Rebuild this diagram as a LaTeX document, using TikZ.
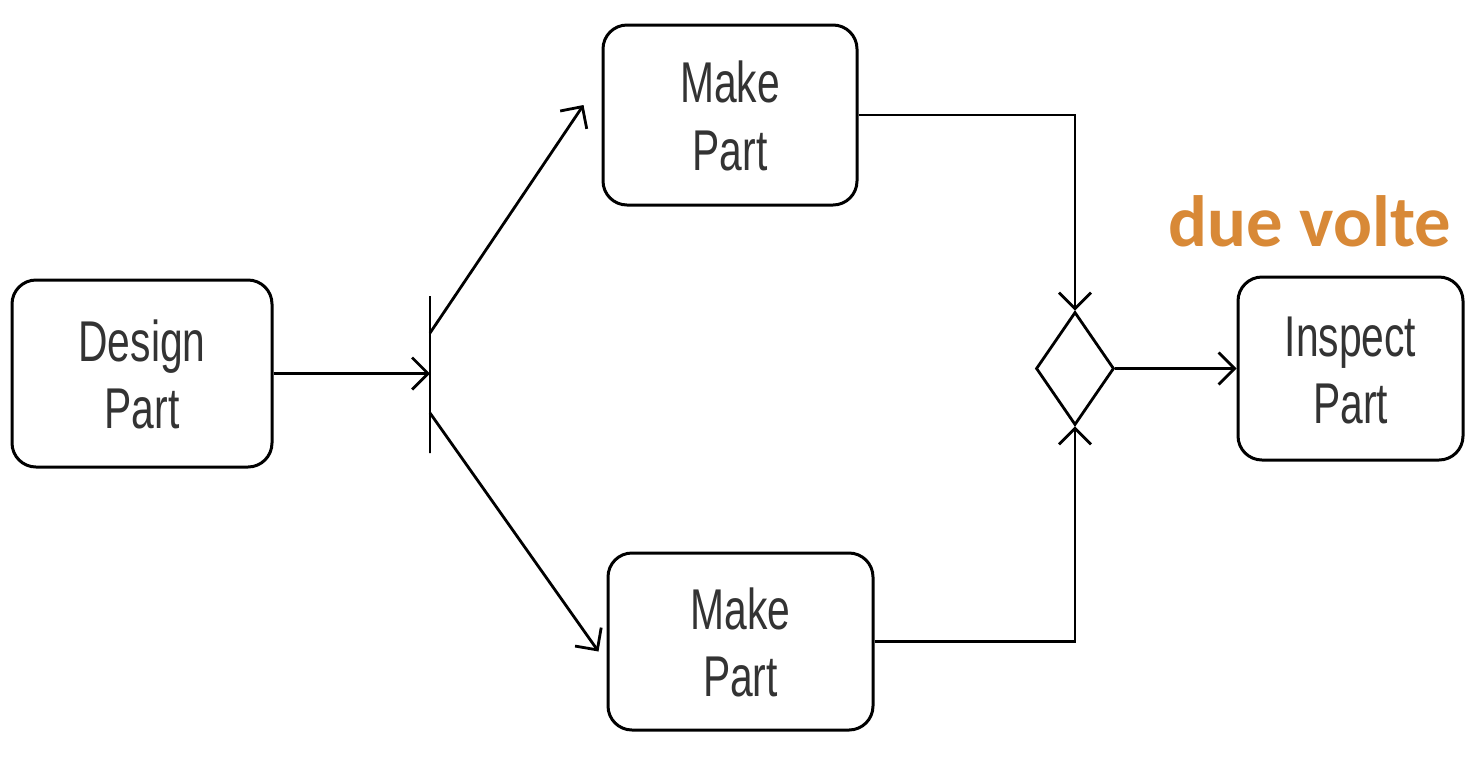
\documentclass[tikz,border=0pt]{standalone}
\usepackage{fontspec}
\usepackage{graphicx}
\setmainfont{Liberation Sans}
\newfontfamily\notefont{Carlito}
\usetikzlibrary{arrows.meta,shapes.geometric}
\definecolor{noteorange}{RGB}{216,137,55}
\newcommand{\stepname}[1]{\scalebox{1}[1.41]{\raisebox{0pt}[\height][\dimexpr\depth-5.7pt\relax]{\fontsize{20.4}{24}\selectfont\begin{tabular}{@{}c@{}}#1\end{tabular}}}}

\begin{document}
\begin{tikzpicture}[x=0.5pt, y=-0.5pt,
	activity/.style={draw, line width=1.5pt, rounded corners=12pt, inner sep=0pt, text=black!80},
	flow/.style={line width=1.4pt, -{Straight Barb[length=8pt, width=16pt, line width=1.4pt]}}]
	\useasboundingbox (0,0) rectangle (1482,762);
	\node[activity, minimum width=130pt, minimum height=93.5pt] (design) at (142,373.5) {\stepname{Design\\Part}};
	\node[activity, minimum width=127pt, minimum height=90pt] (makeA) at (730,115) {\stepname{Make\\Part}};
	\node[activity, minimum width=132.5pt, minimum height=88.5pt] (makeB) at (740.5,641.5) {\stepname{Make\\Part}};
	\node[activity, minimum width=112.5pt, minimum height=91.5pt] (inspect) at (1350.5,368.5) {\stepname{Inspect\\Part}};
	\node[draw, line width=1.4pt, minimum width=0pt, minimum height=78.5pt, inner sep=0pt] (fork) at (430,374.5) {};
	\node[draw, diamond, line width=1.4pt, minimum width=39pt, minimum height=56.5pt, inner sep=0pt] (merge) at (1075,368.5) {};
	\coordinate (forkup) at (430,333);
	\coordinate (forkdown) at (430,413);
	% fork
	\draw[flow] (design.east) -- (design.east -| fork);
	\draw[flow] (forkup) -- ([xshift=-9pt, yshift=5pt]makeA.west);
	\draw[flow] (forkdown) -- ([xshift=-4pt, yshift=-5pt]makeB.west);
	% merge
	\draw[flow] (makeA.east) -| (merge.north);
	\draw[flow] (makeB.east) -| (merge.south);
	\draw[flow] (merge.east) -- (inspect.west);
	\node[anchor=base, text=noteorange, font=\notefont\bfseries\fontsize{36.3}{40}\selectfont] (note) at (1310,246) {due volte};
\end{tikzpicture}
\end{document}
